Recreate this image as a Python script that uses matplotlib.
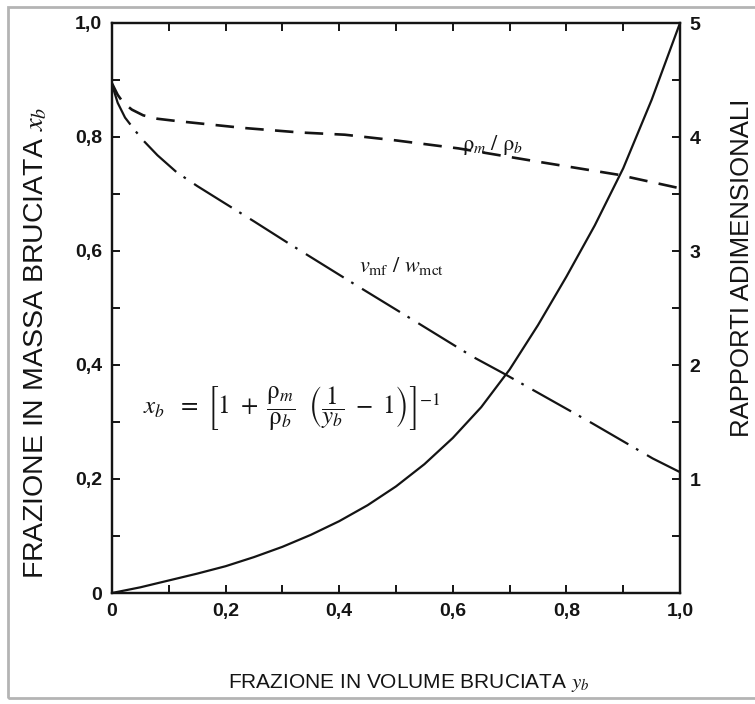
import matplotlib
matplotlib.use("Agg")
import matplotlib.pyplot as plt
from matplotlib.patches import Rectangle

plt.rcParams['font.family'] = ['Liberation Sans', 'DejaVu Sans']
plt.rcParams['mathtext.fontset'] = 'stix'

# solid curve: mass fraction burned x_b vs volume fraction burned y_b (left axis)
yb_solid = [0.0, 0.05, 0.1, 0.15, 0.2, 0.25, 0.3, 0.35, 0.4, 0.45, 0.5, 0.55, 0.6, 0.65,
            0.7, 0.75, 0.8, 0.85, 0.9, 0.95, 1.0]
xb_solid = [0.0, 0.010, 0.022, 0.034, 0.047, 0.063, 0.081, 0.102, 0.126, 0.154, 0.187, 0.226,
            0.272, 0.326, 0.392, 0.470, 0.555, 0.645, 0.745, 0.865, 1.0]

# dashed curve: rho_m / rho_b (right axis)
yb_rho = [0.0, 0.01, 0.02, 0.035, 0.055, 0.08, 0.114, 0.23, 0.33, 0.41, 0.5, 0.61, 0.754, 0.89, 1.0]
rho_ratio = [4.47, 4.37, 4.30, 4.24, 4.19, 4.16, 4.14, 4.08, 4.04, 4.02, 3.97, 3.90, 3.78, 3.67, 3.55]

# dash-dot curve: v_mf / w_mct (right axis)
yb_vel = [0.0, 0.01, 0.023, 0.04, 0.055, 0.08, 0.114, 0.15, 0.195, 0.25, 0.31, 0.42, 0.525,
          0.636, 0.688, 0.845, 0.952, 1.0]
vel_ratio = [4.46, 4.30, 4.17, 4.06, 3.97, 3.84, 3.69, 3.57, 3.43, 3.26, 3.07, 2.73, 2.41,
             2.07, 1.93, 1.49, 1.18, 1.06]

x_ticks = [0, 0.2, 0.4, 0.6, 0.8, 1.0]
x_labels = ['0', '0,2', '0,4', '0,6', '0,8', '1,0']
y_ticks = [0, 0.2, 0.4, 0.6, 0.8, 1.0]
y_labels = ['0', '0,2', '0,4', '0,6', '0,8', '1,0']
r_ticks = [1, 2, 3, 4, 5]
r_labels = ['1', '2', '3', '4', '5']

ink = '#141414'

fig = plt.figure(figsize=(7.55, 7.04), dpi=100)
ax = fig.add_axes([112/755, 111/704, 568/755, 570/704])
ax2 = ax.twinx()

ax.plot(yb_solid, xb_solid, color=ink, lw=1.6)
ax2.plot(yb_rho, rho_ratio, color=ink, lw=1.9, linestyle=(0, (7, 4.3)))
ax2.plot(yb_vel, vel_ratio, color=ink, lw=1.6, linestyle=(0, (20, 4, 1.2, 4.5)))

ax.set_xlim(0, 1)
ax.set_ylim(0, 1)
ax2.set_ylim(0, 5)

ax.set_xticks(x_ticks, x_labels)
ax.set_xticks([i/10 for i in range(11)], minor=True)
ax.set_yticks(y_ticks, y_labels)
ax.set_yticks([i/10 for i in range(11)], minor=True)
ax2.set_yticks(r_ticks, r_labels)
ax2.set_yticks([i/2 for i in range(11)], minor=True)

for a in (ax, ax2):
    for s in a.spines.values():
        s.set_linewidth(1.6)
        s.set_color(ink)
ax.tick_params(axis='both', which='both', direction='in', length=6, width=1.4,
               color=ink, labelsize=14, labelcolor=ink, top=True)
ax.tick_params(axis='x', pad=7)
ax.tick_params(axis='y', pad=7)
ax2.tick_params(axis='y', which='both', direction='in', length=6, width=1.4,
                color=ink, labelsize=14, labelcolor=ink, pad=7)
for lab in ax.get_xticklabels() + ax.get_yticklabels() + ax2.get_yticklabels():
    lab.set_fontweight('bold')

# curve labels
ax2.text(0.67, 3.93, r'$\mathrm{\rho}_m\ /\ \mathrm{\rho}_b$', fontsize=16, color=ink,
         ha='center', va='center')
ax2.text(0.51, 2.87, r'$v_{\mathrm{mf}}\ /\ w_{\mathrm{mct}}$', fontsize=16, color=ink,
         ha='center', va='center')
ax.text(0.055, 0.325,
        r'$x_b\ \ =\ \left[1\ +\ \dfrac{\mathrm{\rho}_m}{\mathrm{\rho}_b}\ \ \left(\dfrac{1}{y_b}\ -\ 1\right)\right]^{-1}$',
        fontsize=18, color=ink, ha='left', va='center')

# axis titles
fig.text(36/755, 1 - 343/704, r'FRAZIONE IN MASSA BRUCIATA $x_b$', rotation=90,
         ha='center', va='center', fontsize=20.5, color=ink)
fig.text(742/755, 1 - 268/704, 'RAPPORTI ADIMENSIONALI', rotation=90,
         ha='center', va='center', fontsize=18.5, color=ink)
fig.text(409/755, 1 - 683/704, r'FRAZIONE IN VOLUME BRUCIATA $y_b$',
         ha='center', va='center', fontsize=15, color=ink)

# light frame around the scan (right side runs off the picture)
fig.patches.append(Rectangle((8/755, 6/704), 760/755, 691/704, transform=fig.transFigure,
                             fill=False, edgecolor='#b4b4b4', lw=2))

fig.savefig('out.png', dpi=100)
